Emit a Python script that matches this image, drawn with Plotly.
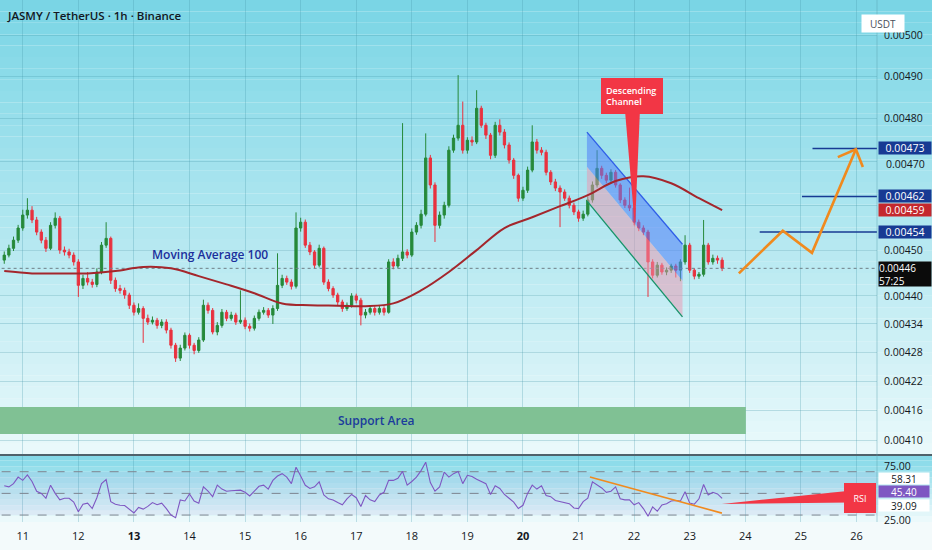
import numpy as np
import pandas as pd
import plotly.graph_objects as go

# 2h candles, prices in millionths of USDT (4489 -> 0.004489)
candle_start = "2023-11-10 16:00"
first_open_u = 4478
closes_u = [
    4489, 4504, 4522, 4549, 4578, 4589, 4567, 4540, 4522, 4504, 4555, 4571,
    4500, 4496, 4489, 4474, 4423, 4438, 4430, 4425, 4452, 4511, 4526, 4434,
    4416, 4412, 4402, 4380, 4365, 4373, 4352, 4344, 4348, 4337, 4344, 4327,
    4295, 4268, 4289, 4316, 4295, 4284, 4306, 4380, 4369, 4323, 4337, 4365,
    4352, 4359, 4344, 4348, 4335, 4331, 4352, 4365, 4369, 4359, 4373, 4423,
    4438, 4430, 4421, 4549, 4562, 4511, 4496, 4467, 4504, 4430, 4416, 4402,
    4387, 4373, 4380, 4400, 4391, 4359, 4365, 4373, 4365, 4373, 4365, 4474,
    4465, 4482, 4496, 4489, 4540, 4555, 4580, 4708, 4646, 4555, 4578, 4600,
    4726, 4754, 4784, 4726, 4749, 4745, 4824, 4784, 4761, 4714, 4784, 4768,
    4738, 4703, 4668, 4616, 4634, 4680, 4745, 4726, 4721, 4675, 4653, 4639,
    4630, 4616, 4600, 4585, 4571, 4580, 4612, 4646, 4684, 4668, 4657, 4675,
    4646, 4612, 4600, 4594, 4562, 4549, 4540, 4474, 4445, 4467, 4452, 4456,
    4465, 4456, 4474, 4511, 4456, 4443, 4447, 4511, 4474, 4482, 4478, 4460,
]
highs_u = [
    4497, 4512, 4530, 4556, 4590, 4616, 4598, 4574, 4546, 4529, 4562, 4584,
    4576, 4508, 4503, 4495, 4480, 4446, 4452, 4437, 4460, 4518, 4562, 4530,
    4440, 4424, 4418, 4407, 4386, 4384, 4378, 4360, 4356, 4353, 4350, 4350,
    4332, 4300, 4296, 4322, 4320, 4300, 4312, 4392, 4386, 4374, 4344, 4372,
    4370, 4366, 4364, 4412, 4354, 4341, 4358, 4371, 4376, 4374, 4380, 4493,
    4446, 4444, 4436, 4584, 4572, 4568, 4518, 4500, 4512, 4508, 4436, 4421,
    4407, 4392, 4386, 4406, 4405, 4396, 4372, 4380, 4378, 4380, 4378, 4480,
    4482, 4490, 4789, 4502, 4548, 4562, 4590, 4765, 4715, 4652, 4586, 4608,
    4735, 4762, 4903, 4840, 4756, 4758, 4867, 4830, 4790, 4766, 4792, 4798,
    4775, 4744, 4708, 4672, 4642, 4688, 4784, 4752, 4733, 4727, 4680, 4660,
    4645, 4636, 4622, 4606, 4590, 4588, 4620, 4654, 4726, 4690, 4674, 4682,
    4680, 4650, 4618, 4640, 4600, 4568, 4555, 4545, 4480, 4474, 4472, 4462,
    4470, 4470, 4480, 4533, 4516, 4460, 4452, 4567, 4516, 4490, 4488, 4484,
]
lows_u = [
    4470, 4484, 4498, 4516, 4543, 4570, 4560, 4533, 4515, 4496, 4500, 4548,
    4492, 4488, 4482, 4466, 4398, 4415, 4423, 4418, 4419, 4447, 4505, 4426,
    4409, 4405, 4394, 4372, 4358, 4360, 4300, 4338, 4339, 4330, 4331, 4320,
    4288, 4260, 4262, 4284, 4288, 4276, 4279, 4302, 4362, 4318, 4316, 4332,
    4346, 4347, 4338, 4340, 4329, 4324, 4326, 4347, 4360, 4353, 4340, 4368,
    4417, 4424, 4414, 4416, 4541, 4505, 4489, 4460, 4462, 4424, 4410, 4396,
    4380, 4366, 4368, 4375, 4384, 4337, 4352, 4360, 4358, 4360, 4358, 4362,
    4458, 4460, 4476, 4482, 4485, 4534, 4548, 4575, 4638, 4518, 4548, 4570,
    4595, 4720, 4748, 4718, 4718, 4736, 4740, 4778, 4752, 4705, 4708, 4760,
    4730, 4695, 4660, 4608, 4610, 4628, 4675, 4718, 4714, 4668, 4646, 4632,
    4551, 4610, 4593, 4578, 4563, 4565, 4575, 4606, 4640, 4660, 4650, 4650,
    4640, 4605, 4594, 4587, 4555, 4542, 4533, 4398, 4438, 4440, 4446, 4445,
    4450, 4440, 4432, 4468, 4450, 4436, 4437, 4442, 4468, 4468, 4470, 4454,
]
rsi_vals = [
    57, 56, 59, 65, 62, 67, 61, 52, 50, 45.5, 57.6, 50,
    44, 45.5, 45.5, 42, 33, 40, 41, 36, 46, 59, 62.7, 42.4,
    40, 39, 38.8, 35, 32, 37, 35.5, 38, 41.5, 39.5, 41, 36,
    30, 27.5, 43.9, 43, 49.5, 43, 41, 56, 52, 47, 57.6, 54,
    52, 52.5, 53, 53, 51, 47.6, 52, 56.5, 57.6, 54, 62, 66,
    68.2, 65, 59, 74.2, 66, 57.5, 54.5, 56, 60.6, 48.5, 45, 43.9,
    41.5, 39.5, 45, 49, 46, 37.9, 48, 44, 42.5, 48.5, 51, 62,
    62, 64, 70.3, 57.6, 61, 65, 71, 78.8, 60, 52, 56, 69.7,
    65, 68.2, 70.3, 59, 66.7, 65.5, 63, 61, 59, 49, 57, 54.5,
    49, 45.5, 42, 36, 39, 50, 57.6, 54, 57, 48, 47, 43.5,
    42.4, 42, 40.5, 36.5, 36, 42.4, 45.5, 60.6, 58, 55, 51, 52,
    56, 45, 44, 44, 39.5, 41.5, 36, 29, 37.5, 33.5, 39.4, 40.5,
    43, 43.5, 43, 51.5, 41, 40, 45, 58.2, 48.5, 51, 49.5, 45.4,
]
# moving average 100, read every 12h (every 6th candle) plus the last candle
ma100_u = [4454, 4449, 4449, 4449, 4454, 4463, 4460, 4443, 4425, 4406, 4384, 4380,
           4379, 4378, 4384, 4412, 4452, 4500, 4549, 4573, 4598, 4623, 4655, 4666,
           4650, 4616, 4589]

# drawings
support_times = ["2023-11-09 00:00", "2023-11-24 00:15"]
support_prices = [0.004112, 0.004167]
channel_times = ["2023-11-21 03:37", "2023-11-22 20:53"]
channel_upper = [0.004768, 0.004513]
channel_mid = [0.004688, 0.004433]
channel_lower = [0.004610, 0.004355]
pointer_times = ["2023-11-21 20:02", "2023-11-22 02:31", "2023-11-22 00:22"]
pointer_prices = [0.004820, 0.004820, 0.004551]
target_starts = ["2023-11-25 05:02", "2023-11-25 00:29", "2023-11-24 06:14"]
target_prices = [0.00473, 0.00462, 0.00454]
path_times = ["2023-11-23 21:14", "2023-11-24 16:12", "2023-11-25 04:48", "2023-11-25 23:46"]
path_prices = [0.004449, 0.004543, 0.004494, 0.004728]
head_times = ["2023-11-25 15:58", "2023-11-25 23:46", "2023-11-26 02:46"]
head_prices = [0.004710, 0.004728, 0.004687]
rsi_trend_times = ["2023-11-21 04:55", "2023-11-23 13:55"]
rsi_trend_vals = [65.2, 31.8]
rsi_wedge_times = ["2023-11-23 13:55", "2023-11-25 21:07", "2023-11-25 21:07"]
rsi_wedge_vals = [40.2, 52.5, 41.5]
rsi_levels = [70, 50, 30]
last_price = 0.00446

day_ticks = pd.date_range("2023-11-11", "2023-11-26", freq="D")
day_labels = [str(d.day) for d in day_ticks]
bold_days = ["13", "20"]
price_ticks = [0.0041, 0.00416, 0.00422, 0.00428, 0.00434, 0.0044, 0.0045,
               0.0046, 0.0047, 0.0048, 0.0049, 0.005]
price_labels = ["0.00410", "0.00416", "0.00422", "0.00428", "0.00434", "0.00440",
                "0.00450", "", "", "0.00480", "0.00490", "0.00500"]

times = pd.date_range(candle_start, periods=len(closes_u), freq="2h")
closes = np.array(closes_u) / 1e6
highs = np.array(highs_u) / 1e6
lows = np.array(lows_u) / 1e6
opens = np.concatenate([[first_open_u / 1e6], closes[:-1]])
ma_times = list(times[::6]) + [times[-1]]
ma100 = np.array(ma100_u) / 1e6

x_left, x_right = "2023-11-09 00:00", "2023-11-28 00:00"
x_range = ["2023-11-10 14:10", "2023-11-26 08:53"]

font = "Open Sans"
ink = "#131722"
orange = "#f08a1e"
navy = "#173a93"
red = "#f23645"

fig = go.Figure()


def line(x, y, color, width=1.5, dash="solid", axes=("x", "y"), **kw):
    fig.add_trace(go.Scatter(x=x, y=y, mode="lines", line=dict(color=color, width=width, dash=dash),
                             xaxis=axes[0], yaxis=axes[1], hoverinfo="skip", showlegend=False, **kw))


# support area
line([support_times[0], support_times[1], support_times[1], support_times[0], support_times[0]],
     [support_prices[0], support_prices[0], support_prices[1], support_prices[1], support_prices[0]],
     "rgba(0,0,0,0)", width=0, fill="toself", fillcolor="#80c194")

# current price dotted line
line([x_left, x_right], [last_price, last_price], "#6f7f86", width=1, dash="dot")

fig.add_trace(go.Candlestick(
    x=times, open=opens, high=highs, low=lows, close=closes,
    increasing=dict(line=dict(color="#26893a", width=1), fillcolor="#26893a"),
    decreasing=dict(line=dict(color="#e8323f", width=1), fillcolor="#e8323f"),
    whiskerwidth=0, hoverinfo="skip", showlegend=False))

# descending channel
ct = channel_times
line([ct[0], ct[1], ct[1], ct[0], ct[0]],
     [channel_upper[0], channel_upper[1], channel_mid[1], channel_mid[0], channel_upper[0]],
     "rgba(0,0,0,0)", width=0, fill="toself", fillcolor="rgba(80,128,250,0.55)")
line([ct[0], ct[1], ct[1], ct[0], ct[0]],
     [channel_mid[0], channel_mid[1], channel_lower[1], channel_lower[0], channel_mid[0]],
     "rgba(0,0,0,0)", width=0, fill="toself", fillcolor="rgba(236,150,175,0.5)")
line(ct, channel_upper, "#2f5ee8", width=1.3)
line(ct, channel_lower, "#16946a", width=1.3)

# moving average
fig.add_trace(go.Scatter(x=ma_times, y=ma100, mode="lines", line=dict(color="#a4262c", width=2, shape="spline"),
                         hoverinfo="skip", showlegend=False))

# callout pointer
line(pointer_times + [pointer_times[0]], pointer_prices + [pointer_prices[0]], red, width=0,
     fill="toself", fillcolor=red)

# targets and projection
for t0, p in zip(target_starts, target_prices):
    line([t0, x_right], [p, p], navy, width=1.6)
line(path_times, path_prices, orange, width=2.6)
line(head_times, head_prices, orange, width=2.6)

# RSI panel
ra = ("x2", "y2")
line([x_left, x_right, x_right, x_left, x_left], [30, 30, 70, 70, 30], "rgba(0,0,0,0)", width=0,
     axes=ra, fill="toself", fillcolor="rgba(126,87,194,0.07)")
for lv in rsi_levels:
    line([x_left, x_right], [lv, lv], "#7d8590", width=1, dash="dash", axes=ra)
line(times, rsi_vals, "#7e57c2", width=1.1, axes=ra)
line(rsi_trend_times, rsi_trend_vals, orange, width=1.6, axes=ra)
line(rsi_wedge_times + [rsi_wedge_times[0]], rsi_wedge_vals + [rsi_wedge_vals[0]], red, width=0,
     axes=ra, fill="toself", fillcolor=red)

# background gradient
H = 522.0


def py(pix):
    return 1 - pix / H


def blend(c0, c1, t):
    return "rgb(%d,%d,%d)" % tuple(round(a + (b - a) * t) for a, b in zip(c0, c1))


shapes = []
n = 40
for k in range(n):
    shapes.append(dict(type="rect", xref="paper", yref="paper", x0=0, x1=1.07,
                       y0=py(455 * (k + 1) / n), y1=py(455 * k / n), layer="below", line=dict(width=0),
                       fillcolor=blend((121, 213, 229), (234, 249, 251), (k + 0.5) / n)))
m = 12
for k in range(m):
    shapes.append(dict(type="rect", xref="paper", yref="paper", x0=0, x1=1.07,
                       y0=py(455 + 67 * (k + 1) / m), y1=py(455 + 67 * k / m), layer="below",
                       line=dict(width=0),
                       fillcolor=blend((128, 216, 231), (240, 250, 252), (k + 0.5) / m)))
shapes.append(dict(type="line", xref="paper", yref="paper", x0=0, x1=1.07, y0=py(455), y1=py(455),
                   line=dict(color="#4f626b", width=2)))
shapes.append(dict(type="line", xref="paper", yref="paper", x0=1, x1=1, y0=py(522), y1=1,
                   line=dict(color="rgba(90,160,175,0.45)", width=1)))

ann = []
ann.append(dict(xref="paper", yref="paper", x=0, y=1, xanchor="left", yanchor="top", xshift=5, yshift=-6,
                text="JASMY / TetherUS · 1h · Binance", showarrow=False,
                font=dict(family=font, size=11.5, color=ink, weight=600)))
ann.append(dict(xref="paper", yref="paper", x=905 / 877, y=py(14), text="USDT", showarrow=False,
                bgcolor="white", width=40, height=15, font=dict(family=font, size=10, color="#4a4f5a")))
ann.append(dict(x="2023-11-14 08:53", y=np.log10(0.004491), text="Moving Average 100", showarrow=False,
                font=dict(family=font, size=12, color="#1b2f9c", weight=600)))
ann.append(dict(x="2023-11-17 08:33", y=np.log10(0.004139), text="Support Area", showarrow=False,
                font=dict(family=font, size=12, color="#1b3c9c", weight=600)))
ann.append(dict(x="2023-11-21 23:17", y=np.log10(0.004852), text="Descending<br>Channel", showarrow=False,
                bgcolor=red, bordercolor=red, borderpad=4, width=52, height=26, align="left",
                font=dict(family=font, size=9, color="white", weight=600)))
ann.append(dict(x="2023-11-26 01:26", y=45.6, xref="x2", yref="y2", text="RSI", showarrow=False,
                bgcolor=red, bordercolor=red, borderpad=2, width=26, height=24,
                font=dict(family=font, size=9, color="white")))

# axis label pushed below the 0.00473 tag, as on the chart
ann.append(dict(xref="paper", yref="y", x=1, y=np.log10(0.0047), xanchor="left", xshift=7, yshift=-3,
                text="0.00470", showarrow=False, font=dict(family=font, size=10.5, color=ink)))

tags = [(0.00473, navy, "white"), (0.00462, navy, "white"), (0.00459, "#c4282e", "white"),
        (0.00454, navy, "white")]
for v, bg, fg in tags:
    ann.append(dict(xref="paper", yref="y", x=1, y=np.log10(v), xanchor="left", xshift=1,
                    text="%.5f" % v, showarrow=False, bgcolor=bg, borderpad=0, width=52, height=12,
                    font=dict(family=font, size=10.5, color=fg)))
ann.append(dict(xref="paper", yref="y", x=1, y=np.log10(last_price), xanchor="left", yanchor="top",
                xshift=1, yshift=7, text="0.00446<br>57:25", showarrow=False, bgcolor="#0b0b0b",
                borderpad=0, width=52, height=24, align="left",
                font=dict(family=font, size=10, color="white")))
rsi_tags = [(58.31, "white", ink, 5.4), (45.40, "#7e57c2", "white", 6.4), (39.09, "white", ink, 0)]
for v, bg, fg, sh in rsi_tags:
    ann.append(dict(xref="paper", yref="y2", x=1, y=v, xanchor="left", xshift=1, yshift=sh,
                    text="%.2f" % v, showarrow=False, bgcolor=bg, borderpad=0, width=50, height=11,
                    font=dict(family=font, size=10, color=fg)))

grid = "rgba(70,150,170,0.28)"
fig.update_layout(
    width=932, height=550, margin=dict(l=0, r=55, t=0, b=28),
    paper_bgcolor="#f3fafb", plot_bgcolor="rgba(0,0,0,0)",
    showlegend=False, shapes=shapes, annotations=ann,
    font=dict(family=font, size=11, color=ink),
    xaxis=dict(type="date", range=x_range, domain=[0, 1], anchor="y", showticklabels=False,
               tickvals=day_ticks, showgrid=True, gridcolor=grid, zeroline=False,
               rangeslider=dict(visible=False)),
    xaxis2=dict(type="date", matches="x", anchor="y2", tickvals=day_ticks,
                ticktext=["<b>%s</b>" % d if d in bold_days else d for d in day_labels],
                showgrid=True, gridcolor=grid, ticks="", ticklabelstandoff=6, zeroline=False,
                tickfont=dict(family=font, size=11, color=ink), rangeslider=dict(visible=False)),
    yaxis=dict(type="log", range=[-2.39019, -2.29354], domain=[1 - 454 / H, 1], anchor="x",
               side="right", tickvals=price_ticks, ticktext=price_labels, showgrid=True,
               gridcolor=grid, ticks="", ticklabelstandoff=6, zeroline=False,
               tickfont=dict(family=font, size=10.5, color=ink)),
    yaxis2=dict(range=[23.6, 84.5], domain=[0, 1 - 456 / H], anchor="x2", side="right",
                tickvals=[75, 25], ticktext=["75.00", "25.00"], showgrid=False, ticks="",
                ticklabelstandoff=6, zeroline=False, tickfont=dict(family=font, size=10.5, color=ink)),
)

fig.write_html("out.html", post_script="document.body.style.margin='0';",
               config={"displayModeBar": False})
